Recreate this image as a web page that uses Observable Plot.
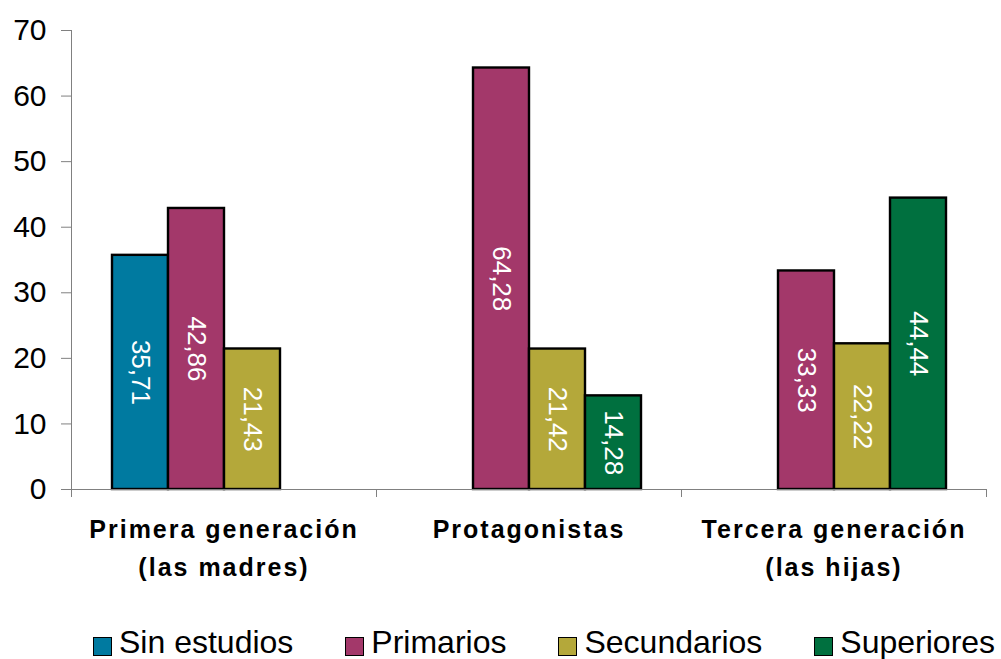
<!DOCTYPE html>
<html>
<head>
<meta charset="utf-8">
<script src="https://cdn.jsdelivr.net/npm/d3@7"></script>
<script src="https://cdn.jsdelivr.net/npm/@observablehq/plot@0.6"></script>
<style>
  html, body { margin: 0; padding: 0; background: white; width: 1001px; height: 659px; overflow: hidden; }
  body { font-family: "Liberation Sans", Arial, sans-serif; }
  #chart svg { display: block; }
  g[aria-label="fx-axis tick label"] text { letter-spacing: 2px; }
  #legend { height: 41px; padding-left: 93px; white-space: nowrap; font-size: 32px; line-height: 41px; padding-top: 4px; box-sizing: border-box; color: black; }
  .item { display: inline-block; margin-right: 52px; }
  .sw { display: inline-block; width: 17px; height: 17px; border: 1.5px solid black; vertical-align: -3px; margin-right: 7px; }
</style>
</head>
<body>
<div id="chart"></div>
<div id="legend"></div>
<script>
const groups = ["Primera", "Protagonistas", "Tercera"];
const groupLabels = ["Primera generación\n(las madres)", "Protagonistas", "Tercera generación\n(las hijas)"];
const series = ["Sin estudios", "Primarios", "Secundarios", "Superiores"];
const colors = ["#007aa0", "#a3386a", "#b4a83a", "#00703f"];
const primera = [35.71, 42.86, 21.43, null];
const protagonistas = [null, 64.28, 21.42, 14.28];
const tercera = [null, 33.33, 22.22, 44.44];
const yTicks = [0, 10, 20, 30, 40, 50, 60, 70];

const data = [];
[primera, protagonistas, tercera].forEach((vals, gi) => {
  vals.forEach((v, si) => { if (v != null) data.push({group: groups[gi], series: series[si], value: v}); });
});
const fmt = v => d3.format(".2f")(v).replace(".", ",");

const chart = Plot.plot({
  width: 1001,
  height: 618,
  marginLeft: 70,
  marginRight: 14,
  marginTop: 30,
  marginBottom: 129,
  style: {fontFamily: "Liberation Sans, Arial, sans-serif", background: "white", overflow: "visible"},
  fx: {domain: groups, padding: 0, label: null},
  x: {domain: series, paddingInner: 0, paddingOuter: 0.7, axis: null},
  y: {domain: [0, 70], axis: null},
  color: {domain: series, range: colors},
  marks: [
    Plot.barY(data, {fx: "group", x: "series", y: "value", fill: "series", stroke: "black", strokeWidth: 2.4}),
    Plot.ruleY([0], {stroke: "#808080", strokeWidth: 1}),
    Plot.text(data, {fx: "group", x: "series", y: d => d.value / 2, text: d => fmt(d.value), rotate: 90, fill: "white", fontSize: 26}),
    Plot.axisY({ticks: yTicks, tickSize: 10, tickPadding: 15, fontSize: 30, stroke: "#808080", fill: "black", label: null, tickFormat: d => String(d)}),
    Plot.axisFx({anchor: "bottom", tickSize: 0, tickPadding: 22, fontSize: 25, fontWeight: "bold", lineHeight: 1.5, label: null, fill: "black",
      tickFormat: d => groupLabels[groups.indexOf(d)]})
  ]
});

document.getElementById("chart").appendChild(chart);

// axis line and group separators, from the plot's own scales
const ys = chart.scale("y");
const fxs = chart.scale("fx");
const svg = d3.select(chart);
const y0 = ys.apply(0), yTop = ys.apply(70);
const bw = fxs.bandwidth;
const first = fxs.apply(groups[0]);
const g = svg.append("g").attr("stroke", "#808080").attr("stroke-width", 1);
g.append("line").attr("x1", first + 0.5).attr("x2", first + 0.5).attr("y1", yTop).attr("y2", y0 + 8);
const edges = groups.map(d => fxs.apply(d) + bw);
edges.forEach(x => {
  g.append("line").attr("x1", Math.round(x) + 0.5).attr("x2", Math.round(x) + 0.5).attr("y1", y0).attr("y2", y0 + 8);
});

const legend = d3.select("#legend");
series.forEach((s, i) => {
  const it = legend.append("span").attr("class", "item");
  it.append("span").attr("class", "sw").style("background", colors[i]);
  it.append("span").text(s);
});
</script>
</body>
</html>
